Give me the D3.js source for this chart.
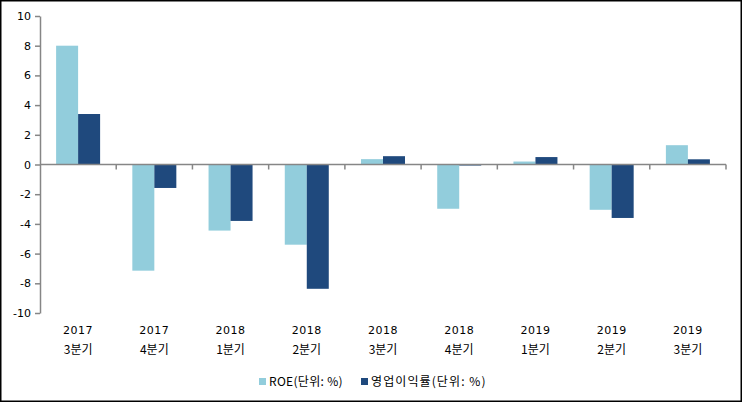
<!DOCTYPE html>
<html><head><meta charset="utf-8">
<script src="https://cdn.jsdelivr.net/npm/d3@7/dist/d3.min.js"></script>
<style>body{margin:0;background:#fff}</style>
</head><body>
<svg id="c" width="743" height="403"></svg>
<script>
const years = ["2017","2017","2018","2018","2018","2018","2019","2019","2019"];
const quarters = ["3분기","4분기","1분기","2분기","3분기","4분기","1분기","2분기","3분기"];
const roe = [8.0,-7.15,-4.45,-5.4,0.36,-2.98,0.2,-3.05,1.3];
const opm = [3.4,-1.58,-3.8,-8.37,0.56,-0.07,0.5,-3.6,0.35];
const seriesNames = ["ROE(단위: %)","영업이익률(단위: %)"];
const colors = ["#92CDDC","#1F497D"];
const yTicks = [-10,-8,-6,-4,-2,0,2,4,6,8,10];

const svg = d3.select("#c");
const font = "'DejaVu Sans', Verdana, sans-serif";
const kfont = "'Noto Sans CJK KR', sans-serif";
svg.append("rect").attr("x",0.75).attr("y",0.75).attr("width",740.5).attr("height",400.5)
  .attr("fill","#fff").attr("stroke","#000").attr("stroke-width",1.5);

const x = d3.scaleBand().domain(d3.range(years.length)).range([40,726]);
const y = d3.scaleLinear().domain([-10,10]).range([313,16]);
const bw = 22;

const g = svg.append("g");
[roe,opm].forEach((s,si)=>{
  g.selectAll(null).data(s).enter().append("rect")
    .attr("x",(d,i)=>x(i)+x.bandwidth()/2 - bw + si*bw)
    .attr("width",bw)
    .attr("y",d=>y(Math.max(0,d)))
    .attr("height",d=>Math.abs(y(d)-y(0)))
    .attr("fill",colors[si]);
});

// y axis
const yAxis = d3.axisLeft(y).tickValues(yTicks).tickSize(5).tickSizeOuter(0).tickPadding(4)
  .tickFormat(d=>String(d));
const ya = svg.append("g").attr("transform","translate(40,0)").call(yAxis);
ya.select(".domain").attr("stroke","#868686").attr("stroke-width",1.5);
ya.selectAll(".tick line").attr("stroke","#868686").attr("stroke-width",1.5);
ya.selectAll("text").attr("font-family",font).attr("font-size",11).attr("fill","#000");

// x axis line at zero
svg.append("line").attr("x1",40).attr("x2",726).attr("y1",y(0)).attr("y2",y(0))
  .attr("stroke","#868686").attr("stroke-width",1.5);
svg.selectAll(null).data(d3.range(1,years.length+1)).enter().append("line")
  .attr("x1",i=>i<years.length? x(i): 726).attr("x2",i=>i<years.length? x(i): 726)
  .attr("y1",y(0)).attr("y2",y(0)+5)
  .attr("stroke","#868686").attr("stroke-width",1.5);

// category labels
svg.selectAll(null).data(years).enter().append("text")
  .attr("x",(d,i)=>x(i)+x.bandwidth()/2).attr("y",334)
  .attr("text-anchor","middle").attr("font-family",font).attr("font-size",11)
  .attr("letter-spacing",0.5).text(d=>d);
svg.selectAll(null).data(quarters).enter().append("text")
  .attr("x",(d,i)=>x(i)+x.bandwidth()/2).attr("y",354)
  .attr("text-anchor","middle").attr("font-family",kfont).attr("font-size",12).text(d=>d);

// legend
const lx = [259,361];
const ls = [0.3,1.1];
seriesNames.forEach((n,i)=>{
  svg.append("rect").attr("x",lx[i]).attr("y",378).attr("width",7).attr("height",7).attr("fill",colors[i]);
  svg.append("text").attr("x",lx[i]+10).attr("y",386).attr("font-family",kfont)
    .attr("font-size",12).attr("letter-spacing",ls[i]).text(n);
});
</script>
</body></html>
